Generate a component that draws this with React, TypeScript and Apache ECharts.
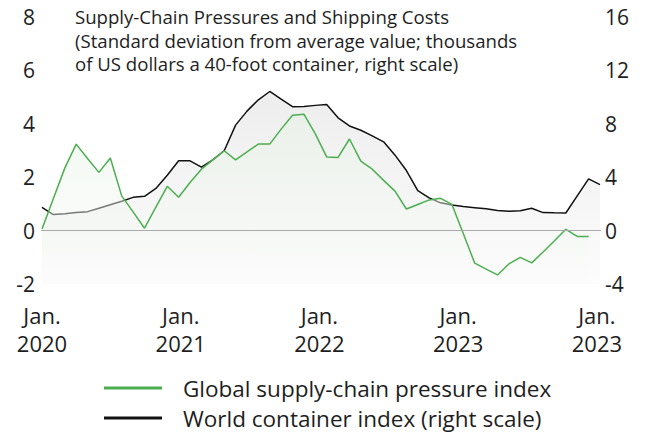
import React, { useEffect, useRef } from "react";
import * as echarts from "echarts";

// Monthly categories, Jan 2020 .. Feb 2024 (index = months since Jan 2020)
const months: string[] = [
  "2020-01","2020-02","2020-03","2020-04","2020-05","2020-06","2020-07","2020-08","2020-09","2020-10","2020-11","2020-12",
  "2021-01","2021-02","2021-03","2021-04","2021-05","2021-06","2021-07","2021-08","2021-09","2021-10","2021-11","2021-12",
  "2022-01","2022-02","2022-03","2022-04","2022-05","2022-06","2022-07","2022-08","2022-09","2022-10","2022-11","2022-12",
  "2023-01","2023-02","2023-03","2023-04","2023-05","2023-06","2023-07","2023-08","2023-09","2023-10","2023-11","2023-12",
  "2024-01","2024-02",
];

// Global supply-chain pressure index (standard deviations)
const gscpi: number[] = [
  0.06, 1.2, 2.34, 3.24, 2.7, 2.18, 2.72, 1.3, 0.7, 0.09, 0.88, 1.66,
  1.25, 1.8, 2.3, 2.65, 2.99, 2.65, 2.95, 3.24, 3.24, 3.8, 4.32, 4.36,
  3.62, 2.76, 2.74, 3.43, 2.6, 2.3, 1.88, 1.48, 0.81, 0.98, 1.15, 1.21,
  0.98, -0.12, -1.22, -1.44, -1.66, -1.25, -1.0, -1.21, -0.8, -0.38, 0.05, -0.22,
  -0.22,
];

// World container index (thousands of US dollars per 40-foot container)
const wci: number[] = [
  1.74, 1.2, 1.27, 1.35, 1.42, 1.68, 1.94, 2.2, 2.49, 2.57, 3.16, 4.14,
  5.23, 5.23, 4.75, 5.3, 5.98, 7.9, 8.95, 9.8, 10.42, 9.85, 9.28, 9.3,
  9.38, 9.45, 8.45, 7.84, 7.52, 7.1, 6.65, 5.65, 4.5, 3.0, 2.45, 2.08,
  1.92, 1.8, 1.72, 1.63, 1.5, 1.45, 1.48, 1.67, 1.35, 1.33, 1.32, 2.6,
  3.87, 3.44,
];

const xLabelYears: string[] = ["2020", "2021", "2022", "2023", "2023"];

const seriesNames = {
  gscpi: "Global supply-chain pressure index",
  wci: "World container index (right scale)",
};

const titleText =
  "Supply-Chain Pressures and Shipping Costs\n(Standard deviation from average value; thousands\nof US dollars a 40-foot container, right scale)";

const FONT = "'Open Sans', 'Noto Sans', sans-serif";
const GREEN = "#4cae4f";
const BLACK = "#111111";
const TXT = "#1e1e1e";

const legendText = {
  fontFamily: FONT,
  fontSize: 22.5,
  lineHeight: 26,
  color: TXT,
  padding: [0, 0, 0, 16],
};

export default function App() {
  const ref = useRef<HTMLDivElement>(null);

  useEffect(() => {
    document.body.style.margin = "0";
    if (!ref.current) return;
    const chart = echarts.init(ref.current, undefined, { renderer: "svg" });
    chart.setOption({
      animation: false,
      textStyle: { fontFamily: FONT },
      title: {
        text: titleText,
        left: 75,
        top: 5,
        padding: 0,
        textStyle: {
          fontFamily: FONT,
          fontSize: 18.6,
          lineHeight: 23.5,
          fontWeight: "normal",
          color: TXT,
        },
      },
      legend: [
        {
          data: [seriesNames.gscpi],
          orient: "vertical",
          left: 104,
          top: 375,
          padding: 0,
          itemWidth: 58,
          itemHeight: 3,
          icon: "rect",
          textStyle: legendText,
        },
        {
          data: [seriesNames.wci],
          orient: "vertical",
          left: 104,
          top: 405,
          padding: 0,
          itemWidth: 58,
          itemHeight: 3,
          icon: "rect",
          textStyle: legendText,
        },
      ],
      grid: { left: 42, right: 46, top: 17, bottom: 150, containLabel: false },
      xAxis: [
        {
          type: "category",
          data: months,
          boundaryGap: false,
          position: "bottom",
          axisLine: { show: true, lineStyle: { color: "#333", width: 1 } },
          axisTick: { show: false },
          axisLabel: { show: false },
          splitLine: { show: false },
        },
        {
          type: "value",
          min: 0,
          max: 48.27,
          interval: 12,
          position: "bottom",
          axisLine: { show: false },
          axisTick: { show: false },
          splitLine: { show: false },
          axisLabel: {
            fontFamily: FONT,
            fontSize: 22,
            lineHeight: 28,
            color: TXT,
            margin: 17,
            formatter: (v: number) => {
              if (Math.abs(v % 12) > 1e-6) return "";
              const i = Math.round(v / 12);
              return xLabelYears[i] ? "Jan.\n" + xLabelYears[i] : "";
            },
          },
        },
      ],
      yAxis: [
        {
          type: "value",
          min: -2,
          max: 8,
          interval: 2,
          position: "left",
          axisLine: { show: false },
          axisTick: { show: false },
          splitLine: { show: false },
          axisLabel: { fontFamily: FONT, fontSize: 21, color: TXT, margin: 7 },
        },
        {
          type: "value",
          min: -4,
          max: 16,
          interval: 4,
          position: "right",
          axisLine: { show: false },
          axisTick: { show: false },
          splitLine: { show: false },
          axisLabel: { fontFamily: FONT, fontSize: 21, color: TXT, margin: 5 },
        },
      ],
      series: [
        {
          name: seriesNames.wci,
          type: "line",
          xAxisIndex: 0,
          yAxisIndex: 1,
          data: wci,
          symbol: "none",
          lineStyle: { color: BLACK, width: 1.5 },
          itemStyle: { color: BLACK },
          areaStyle: {
            origin: "start",
            color: new echarts.graphic.LinearGradient(0, 0, 0, 1, [
              { offset: 0, color: "#e6e6e6" },
              { offset: 1, color: "#fbfbfb" },
            ]),
          },
          markLine: {
            silent: true,
            symbol: "none",
            label: { show: false },
            lineStyle: { color: "#aaaaaa", width: 1, type: "solid" },
            data: [{ yAxis: 0 }],
          },
          z: 2,
        },
        {
          name: seriesNames.gscpi,
          type: "line",
          xAxisIndex: 0,
          yAxisIndex: 0,
          data: gscpi,
          symbol: "none",
          lineStyle: { color: GREEN, width: 1.5 },
          itemStyle: { color: GREEN },
          areaStyle: {
            origin: "start",
            color: new echarts.graphic.LinearGradient(0, 0, 0, 1, [
              { offset: 0, color: "rgba(230,242,228,0.72)" },
              { offset: 1, color: "rgba(250,251,250,0.6)" },
            ]),
          },
          z: 3,
        },
      ],
    });
    return () => chart.dispose();
  }, []);

  return <div ref={ref} style={{ width: 646, height: 434 }} />;
}
